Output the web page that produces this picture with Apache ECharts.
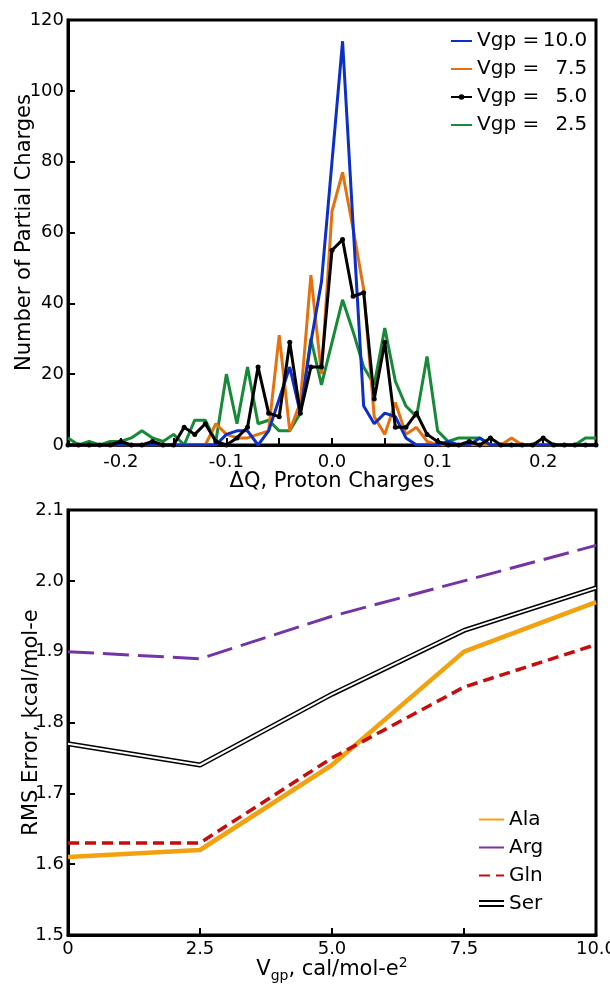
<!DOCTYPE html>
<html>
<head>
<meta charset="utf-8">
<script src="https://cdn.jsdelivr.net/npm/echarts@6/dist/echarts.min.js"></script>
<style>
  html, body { margin: 0; padding: 0; background: #fff; }
  #chart { width: 610px; height: 988px; }
</style>
</head>
<body>
<div id="chart"></div>
<script>
// 上图：电荷差分布（每 0.01 一个区间）
const dqBins = [
  -0.25, -0.24, -0.23, -0.22, -0.21, -0.20, -0.19, -0.18, -0.17, -0.16,
  -0.15, -0.14, -0.13, -0.12, -0.11, -0.10, -0.09, -0.08, -0.07, -0.06,
  -0.05, -0.04, -0.03, -0.02, -0.01, 0.00, 0.01, 0.02, 0.03, 0.04,
  0.05, 0.06, 0.07, 0.08, 0.09, 0.10, 0.11, 0.12, 0.13, 0.14,
  0.15, 0.16, 0.17, 0.18, 0.19, 0.20, 0.21, 0.22, 0.23, 0.24, 0.25
];
const vgp100 = [
  0, 0, 0, 0, 0, 0, 0, 0, 0, 0,
  0, 0, 0, 0, 0, 3, 4, 4, 0, 4,
  13, 22, 9, 29, 46, 80, 114, 62, 11, 6,
  9, 8, 2, 0, 0, 0, 1, 0, 0, 2,
  0, 0, 0, 0, 0, 0, 0, 0, 0, 0, 0
];
const vgp75 = [
  0, 0, 0, 0, 0, 0, 0, 0, 0, 0,
  0, 0, 0, 0, 6, 3, 2, 2, 3, 4,
  31, 4, 12, 48, 20, 66, 77, 61, 44, 8,
  3, 12, 3, 5, 1, 0, 0, 0, 0, 0,
  0, 0, 2, 0, 0, 0, 0, 0, 0, 0, 0
];
const vgp50 = [
  0, 0, 0, 0, 0, 1, 0, 0, 1, 0,
  0, 5, 3, 6, 1, 0, 2, 5, 22, 9,
  8, 29, 9, 22, 22, 55, 58, 42, 43, 13,
  29, 5, 5, 9, 3, 1, 0, 0, 1, 0,
  2, 0, 0, 0, 0, 2, 0, 0, 0, 0, 0
];
const vgp25 = [
  2, 0, 1, 0, 1, 1, 2, 4, 2, 1,
  3, 0, 7, 7, 1, 20, 6, 22, 6, 7,
  4, 4, 9, 30, 17, 29, 41, 32, 22, 17,
  33, 18, 11, 8, 25, 4, 1, 2, 2, 2,
  0, 0, 0, 0, 0, 0, 0, 0, 0, 2, 2
];
const topNames = ["10.0", "7.5", "5.0", "2.5"];

// 下图：RMS 误差
const vgpLevels = [0, 2.5, 5.0, 7.5, 10.0];
const ala = [1.61, 1.62, 1.74, 1.90, 1.97];
const arg = [1.90, 1.89, 1.95, 2.00, 2.05];
const gln = [1.63, 1.63, 1.75, 1.85, 1.91];
const ser = [1.77, 1.74, 1.84, 1.93, 1.99];

const font = "DejaVu Sans";
const pair = (xs, ys) => xs.map((x, i) => [x, ys[i]]);
// 图例只显示线，不显示圆点
const lineOnly = name => ({ name: name, itemStyle: { opacity: 0 } });

const axisCommon = {
  axisLine: { show: true, onZero: false, lineStyle: { color: "#000", width: 3 } },
  axisTick: { show: true, inside: true, length: 7, lineStyle: { color: "#000", width: 2 } },
  splitLine: { show: false },
  axisLabel: { color: "#000", fontFamily: font, fontSize: 18 },
  nameMoveOverlap: false
};

const chart = echarts.init(document.getElementById("chart"));

const option = {
  backgroundColor: "#fff",
  animation: false,
  grid: [
    { left: 68, right: 14, top: 20, height: 425, outerBoundsMode: "none", containLabel: false, show: true, borderColor: "#000", borderWidth: 3 },
    { left: 68, right: 14, top: 510, height: 425, outerBoundsMode: "none", containLabel: false, show: true, borderColor: "#000", borderWidth: 3 }
  ],
  legend: [
    {
      orient: "vertical",
      left: 450,
      top: 29,
      padding: 0,
      itemWidth: 21,
      itemHeight: 7,
      itemGap: 4,
      data: [lineOnly("10.0"), lineOnly("7.5"), "5.0", lineOnly("2.5")],
      textStyle: {
        fontFamily: font,
        fontSize: 20,
        color: "#000",
        lineHeight: 24,
        rich: {
          v: { fontFamily: font, fontSize: 20, color: "#000" },
          n: { fontFamily: font, fontSize: 20, color: "#000", width: 48, align: "right" }
        }
      },
      formatter: name => "{v|Vgp =}{n|" + name + "}"
    },
    {
      orient: "vertical",
      left: 478,
      top: 808,
      padding: 0,
      itemWidth: 25,
      itemHeight: 7,
      itemGap: 5,
      itemTextGap: 7,
      data: [lineOnly("Ala"), lineOnly("Arg"), lineOnly("Gln"), { name: "Ser", icon: "path://M0,0H25V2H0Z M0,5H25V7H0Z" }],
      textStyle: { fontFamily: font, fontSize: 20, color: "#000", lineHeight: 23 }
    }
  ],
  xAxis: [
    {
      ...axisCommon,
      gridIndex: 0,
      type: "value",
      min: -0.25,
      max: 0.25,
      interval: 0.05,
      axisLabel: {
        ...axisCommon.axisLabel,
        margin: 8,
        formatter: v => {
          const t = v * 10;
          return Math.abs(t - Math.round(t)) < 1e-6 && Math.abs(v) < 0.24 ? v.toFixed(1) : "";
        }
      },
      name: "ΔQ, Proton Charges",
      nameLocation: "middle",
      nameGap: 26,
      nameTextStyle: { fontFamily: font, fontSize: 21, color: "#000" }
    },
    {
      ...axisCommon,
      gridIndex: 1,
      type: "value",
      min: 0,
      max: 10,
      interval: 2.5,
      axisLabel: {
        ...axisCommon.axisLabel,
        margin: 5,
        formatter: v => (v === 0 ? "0" : v.toFixed(1))
      },
      name: "{a|V}{sub|gp}{a|, cal/mol-e}{sup|2}",
      nameLocation: "middle",
      nameGap: 21,
      nameTextStyle: {
        rich: {
          a: { fontFamily: font, fontSize: 21, color: "#000", lineHeight: 27, verticalAlign: "middle" },
          sub: { fontFamily: font, fontSize: 14, color: "#000", lineHeight: 14, verticalAlign: "bottom" },
          sup: { fontFamily: font, fontSize: 14, color: "#000", lineHeight: 14, verticalAlign: "top" }
        }
      }
    }
  ],
  yAxis: [
    {
      ...axisCommon,
      gridIndex: 0,
      type: "value",
      min: 0,
      max: 120,
      interval: 20,
      axisLabel: { ...axisCommon.axisLabel, margin: 4 },
      name: "Number of Partial Charges",
      nameLocation: "middle",
      nameGap: 33,
      nameTextStyle: { fontFamily: font, fontSize: 21, color: "#000" }
    },
    {
      ...axisCommon,
      gridIndex: 1,
      type: "value",
      min: 1.5,
      max: 2.1,
      interval: 0.1,
      axisLabel: { ...axisCommon.axisLabel, margin: 4, formatter: v => v.toFixed(1) },
      name: "RMS Error, kcal/mol-e",
      nameLocation: "middle",
      nameGap: 26,
      nameTextStyle: { fontFamily: font, fontSize: 21, color: "#000" }
    }
  ],
  series: [
    // 上图
    {
      name: "2.5", type: "line", xAxisIndex: 0, yAxisIndex: 0,
      data: pair(dqBins, vgp25), showSymbol: false, symbol: "none",
      color: "#168a36", lineStyle: { width: 3 }, z: 2
    },
    {
      name: "7.5", type: "line", xAxisIndex: 0, yAxisIndex: 0,
      data: pair(dqBins, vgp75), showSymbol: false, symbol: "none",
      color: "#e8700c", lineStyle: { width: 3 }, z: 3
    },
    {
      name: "10.0", type: "line", xAxisIndex: 0, yAxisIndex: 0,
      data: pair(dqBins, vgp100), showSymbol: false, symbol: "none",
      color: "#0c2fc8", lineStyle: { width: 3 }, z: 4
    },
    {
      name: "5.0", type: "line", xAxisIndex: 0, yAxisIndex: 0,
      data: pair(dqBins, vgp50), symbol: "circle", symbolSize: 5, showSymbol: true,
      color: "#000", lineStyle: { width: 3 }, z: 5
    },
    // 下图
    {
      name: "Ala", type: "line", xAxisIndex: 1, yAxisIndex: 1,
      data: pair(vgpLevels, ala), symbol: "none",
      color: "#f2a10f", lineStyle: { width: 4.5 }
    },
    {
      name: "Arg", type: "line", xAxisIndex: 1, yAxisIndex: 1,
      data: pair(vgpLevels, arg), symbol: "none",
      color: "#7434a8", lineStyle: { width: 3, type: [26, 9] }
    },
    {
      name: "Gln", type: "line", xAxisIndex: 1, yAxisIndex: 1,
      data: pair(vgpLevels, gln), symbol: "none",
      color: "#c80c0c", lineStyle: { width: 3.5, type: [11, 6] }
    },
    {
      name: "Ser", type: "line", xAxisIndex: 1, yAxisIndex: 1,
      data: pair(vgpLevels, ser), symbol: "none",
      color: "#000", lineStyle: { width: 5 }
    },
    {
      // 双线效果：中间的白线
      name: "Ser-inner", type: "line", xAxisIndex: 1, yAxisIndex: 1,
      data: pair(vgpLevels, ser), symbol: "none",
      color: "#fff", lineStyle: { width: 2 }, z: 3
    }
  ]
};

chart.setOption(option);
</script>
</body>
</html>
